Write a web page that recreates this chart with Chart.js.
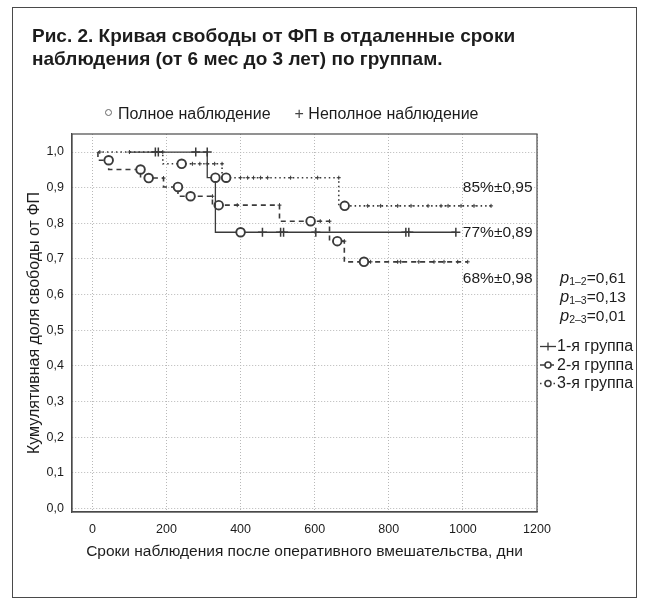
<!DOCTYPE html>
<html><head><meta charset="utf-8">
<script src="https://cdn.jsdelivr.net/npm/chart.js@4.4.1/dist/chart.umd.min.js"></script>
<style>
html,body{margin:0;padding:0;background:#fff;}
#wrap{position:relative;width:649px;height:602px;overflow:hidden;font-family:"Liberation Sans",Arial,sans-serif;color:#1c1c1c;}
#frame{position:absolute;left:12px;top:7px;width:623px;height:589px;border:1.5px solid #4a4a4a;}
canvas{position:absolute;left:0;top:0;}
.t{position:absolute;white-space:nowrap;}
.dot{display:inline-block;width:5px;height:5px;border:1.3px solid #666;border-radius:50%;vertical-align:middle;margin-right:6px;position:relative;top:-2px;}
.pv{font-size:15.5px;}
.pv div{height:19px;line-height:19px;}
.pv i{font-size:16.5px;}
.pv sub{font-size:10.5px;vertical-align:-2px;line-height:0;}
.lg{font-size:16px;}
.lg div{height:18.5px;line-height:18.5px;}
</style></head>
<body><div id="wrap"><div id="frame"></div><canvas id="c" width="649" height="602"></canvas>
<div class="t" id="title" style="left:32px;top:24px;font-weight:bold;font-size:19px;line-height:23px;"></div>
<div class="t" id="topLegend" style="left:105px;top:105px;font-size:16px;"></div>
<div class="t pv" id="pvals" style="left:560px;top:268px;"></div>
<div class="t lg" id="grpLegend" style="left:557px;top:337px;"></div>
</div>
<script>
// ---- text ----
const titleLines = ['Рис. 2. Кривая свободы от ФП в отдаленные сроки', 'наблюдения (от 6 мес до 3 лет) по группам.'];
const topLegendItems = ['Полное наблюдение', 'Неполное наблюдение'];
const xTitle = 'Сроки наблюдения после оперативного вмешательства, дни';
const yTitle = 'Кумулятивная доля свободы от ФП';
const groupNames = ['1-я группа', '2-я группа', '3-я группа'];
const pPairs = ['1–2', '1–3', '2–3'];
const pValues = ['0,61', '0,13', '0,01'];
const endLabels = ['85%±0,95', '77%±0,89', '68%±0,98'];
const endLabelY = [0.90, 0.775, 0.644];
const endLabelX = 1188;

// ---- axes ----
const xTicks = [0, 200, 400, 600, 800, 1000, 1200];
const yTicks = [0.0, 0.1, 0.2, 0.3, 0.4, 0.5, 0.6, 0.7, 0.8, 0.9, 1.0];

// ---- data (e = event / полное наблюдение, c = censored / неполное, s = start) ----
const g1Days = [100, 170, 178, 279, 310, 332, 400, 459, 508, 516, 603, 846, 854, 981];
const g1Surv = [1.0, 1.0, 1.0, 1.0, 1.0, 0.928, 0.775, 0.775, 0.775, 0.775, 0.775, 0.775, 0.775, 0.775];
const g1Mark = ['s', 'c', 'c', 'c', 'c', 'e', 'e', 'c', 'c', 'c', 'c', 'c', 'c', 'c'];

const g2Days = [15, 44, 130, 152, 192, 231, 265, 324, 341, 391, 505, 589, 615, 640, 661, 680, 733, 751, 824, 832, 881, 922, 949, 986, 1013];
const g2Surv = [1.0, 0.977, 0.951, 0.927, 0.927, 0.902, 0.876, 0.876, 0.851, 0.851, 0.851, 0.806, 0.806, 0.806, 0.750, 0.750, 0.692, 0.692, 0.692, 0.692, 0.692, 0.692, 0.692, 0.692, 0.692];
const g2Mark = ['s', 'e', 'e', 'e', 'c', 'e', 'e', 'c', 'e', 'c', 'c', 'e', 'c', 'c', 'e', 'c', 'e', 'c', 'c', 'c', 'c', 'c', 'c', 'c', 'c'];

const g3Days = [15, 20, 100, 190, 241, 270, 290, 310, 330, 350, 361, 400, 419, 435, 454, 473, 535, 608, 665, 681, 743, 778, 824, 860, 906, 941, 960, 995, 1030, 1076];
const g3Surv = [1.0, 1.0, 1.0, 1.0, 0.967, 0.967, 0.967, 0.967, 0.967, 0.967, 0.928, 0.928, 0.928, 0.928, 0.928, 0.928, 0.928, 0.928, 0.928, 0.849, 0.849, 0.849, 0.849, 0.849, 0.849, 0.849, 0.849, 0.849, 0.849, 0.849];
const g3Mark = ['s', 'c', 'c', 'c', 'e', 'c', 'c', 'c', 'c', 'c', 'e', 'c', 'c', 'c', 'c', 'c', 'c', 'c', 'c', 'e', 'c', 'c', 'c', 'c', 'c', 'c', 'c', 'c', 'c', 'c'];

// ---- HTML text ----
document.getElementById('title').innerHTML = titleLines.join('<br>');
document.getElementById('topLegend').innerHTML =
  '<span class="dot"></span>' + topLegendItems[0] +
  '<span style="display:inline-block;width:24px"></span><span style="color:#444">+</span> ' + topLegendItems[1];
document.getElementById('pvals').innerHTML = pPairs.map((p, i) =>
  '<div><i>p</i><sub>' + p + '</sub>=' + pValues[i] + '</div>').join('');
document.getElementById('grpLegend').innerHTML = groupNames.map(g => '<div>' + g + '</div>').join('');

// ---- chart ----
const INK = '#3a3a3a';
function mk(days, surv, marks, style) {
  return {
    data: days.map((d, i) => ({x: d, y: surv[i]})),
    stepped: 'after',
    borderColor: INK,
    borderWidth: style.bw,
    borderDash: style.dash,
    fill: false,
    pointStyle: marks.map(m => m === 'e' ? 'circle' : (m === 'c' ? 'cross' : 'circle')),
    pointRadius: marks.map(m => m === 'e' ? 4.3 : (m === 'c' ? style.cr : 0)),
    pointBorderWidth: marks.map(m => m === 'e' ? 1.9 : style.cw),
    pointBackgroundColor: '#fff',
    pointBorderColor: INK
  };
}
const styles = [
  {bw: 1.3, dash: [], cr: 4.5, cw: 1.5},
  {bw: 1.6, dash: [5, 4], cr: 2, cw: 1},
  {bw: 1.6, dash: [1.5, 3], cr: 2, cw: 1}
];

const overlay = {
  id: 'overlay',
  afterDatasetsDraw(chart) {
    const {ctx, chartArea: a, scales: {x, y}} = chart;
    ctx.save();
    ctx.strokeStyle = '#4a4a4a'; ctx.lineWidth = 1.2; ctx.setLineDash([]);
    ctx.strokeRect(a.left, a.top, a.right - a.left, a.bottom - a.top);
    ctx.fillStyle = '#1c1c1c';
    ctx.font = '15.5px "Liberation Sans", Arial, sans-serif';
    ctx.textAlign = 'right'; ctx.textBaseline = 'middle';
    endLabels.forEach((t, i) => ctx.fillText(t, x.getPixelForValue(endLabelX), y.getPixelForValue(endLabelY[i])));
    const ly = [346.5, 365, 383.5];
    const x0 = 540, x1 = 556;
    ly.forEach((yy, i) => {
      const st = styles[i];
      ctx.strokeStyle = INK; ctx.lineWidth = st.bw; ctx.setLineDash(st.dash);
      ctx.beginPath(); ctx.moveTo(x0, yy); ctx.lineTo(x1, yy); ctx.stroke();
      ctx.setLineDash([]);
      const cx = (x0 + x1) / 2;
      if (i === 0) {
        ctx.lineWidth = 1.3;
        ctx.beginPath(); ctx.moveTo(cx, yy - 4); ctx.lineTo(cx, yy + 4); ctx.stroke();
      } else {
        ctx.lineWidth = 1.5; ctx.fillStyle = '#fff';
        ctx.beginPath(); ctx.arc(cx, yy, 3, 0, Math.PI * 2); ctx.fill(); ctx.stroke();
      }
    });
    ctx.restore();
  }
};

const fontF = '"Liberation Sans", Arial, sans-serif';
new Chart(document.getElementById('c'), {
  type: 'line',
  data: {datasets: [mk(g1Days, g1Surv, g1Mark, styles[0]), mk(g2Days, g2Surv, g2Mark, styles[1]), mk(g3Days, g3Surv, g3Mark, styles[2])]},
  options: {
    responsive: false, animation: false,
    layout: {padding: {left: 20, right: 112, top: 134, bottom: 0}},
    plugins: {legend: {display: false}, tooltip: {enabled: false}, title: {display: false}},
    scales: {
      x: {
        type: 'linear', min: -55, max: 1200,
        afterBuildTicks: s => { s.ticks = xTicks.map(v => ({value: v})); },
        afterFit: s => { s.height = 90; },
        grid: {color: '#b8b8b8', drawTicks: false, lineWidth: 1},
        border: {display: true, color: '#4a4a4a', width: 1.2, dash: [1, 2]},
        ticks: {padding: 10, color: '#1c1c1c', font: {family: fontF, size: 12.5}, maxRotation: 0, callback: v => String(v)},
        title: {display: true, text: xTitle, color: '#1c1c1c', font: {family: fontF, size: 15.5}, padding: {top: 0, bottom: 41}}
      },
      y: {
        type: 'linear', min: -0.0098, max: 1.0506,
        afterBuildTicks: s => { s.ticks = yTicks.map(v => ({value: v})); },
        afterFit: s => { s.width = 52; },
        grid: {color: '#b8b8b8', drawTicks: false, lineWidth: 1},
        border: {display: true, color: '#4a4a4a', width: 1.2, dash: [1, 2]},
        ticks: {padding: 8, color: '#1c1c1c', font: {family: fontF, size: 12.5}, callback: v => v.toFixed(1).replace('.', ',')},
        title: {display: true, text: yTitle, color: '#1c1c1c', font: {family: fontF, size: 16}, padding: {top: 5, bottom: 0}}
      }
    }
  },
  plugins: [overlay]
});
</script>
</body></html>
